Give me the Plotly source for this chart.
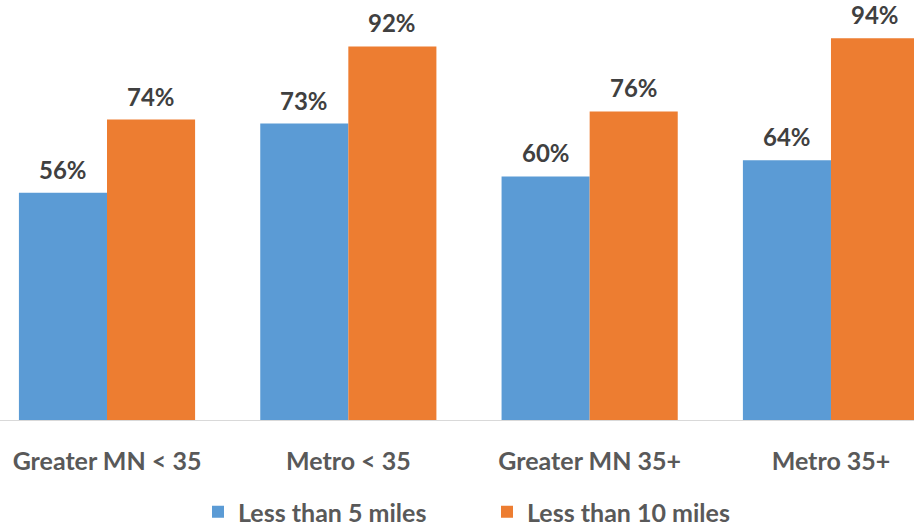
import plotly.graph_objects as go

categories = ["Greater MN < 35", "Metro < 35", "Greater MN 35+", "Metro 35+"]
series_names = ["Less than 5 miles", "Less than 10 miles"]
less_than_5 = [56, 73, 60, 64]
less_than_10 = [74, 92, 76, 94]
colors = ["#5B9BD5", "#ED7D31"]

FONT = "Lato"
fig = go.Figure()
for name, vals, col in zip(series_names, [less_than_5, less_than_10], colors):
    fig.add_trace(go.Bar(x=categories, y=vals, name=name, marker_color=col,
                         marker_line_width=0))

offsets = [-0.1825, 0.1825]
for off, vals in zip(offsets, [less_than_5, less_than_10]):
    for i, v in enumerate(vals):
        fig.add_annotation(x=i + off, y=v, xref="x", yref="y", text=f"{v}%",
                           showarrow=False, yanchor="bottom", yshift=7,
                           font=dict(family=FONT, size=24, color="#404040", weight="bold"))

fig.update_layout(
    width=914, height=529,
    margin=dict(l=0, r=0, t=14, b=109, autoexpand=False),
    plot_bgcolor="white", paper_bgcolor="white",
    barmode="group", bargap=0.27, bargroupgap=0,
    showlegend=True,
    legend=dict(orientation="h", x=198 / 914, xanchor="left", yref="paper",
                y=-(512 - 420) / 406, yanchor="middle",
                font=dict(family=FONT, size=25, color="#595959", weight="bold"),
                entrywidth=244, entrywidthmode="pixels", traceorder="normal"),
    xaxis=dict(range=[-0.4434, 3.344], showline=True, linecolor="#D9D9D9", linewidth=1,
               ticks="", ticklabelstandoff=19, automargin=False,
               tickfont=dict(family=FONT, size=25, color="#595959", weight="bold")),
    yaxis=dict(range=[0, 100], showgrid=False, showticklabels=False, zeroline=False,
               automargin=False),
)
fig.write_html("out.html")
